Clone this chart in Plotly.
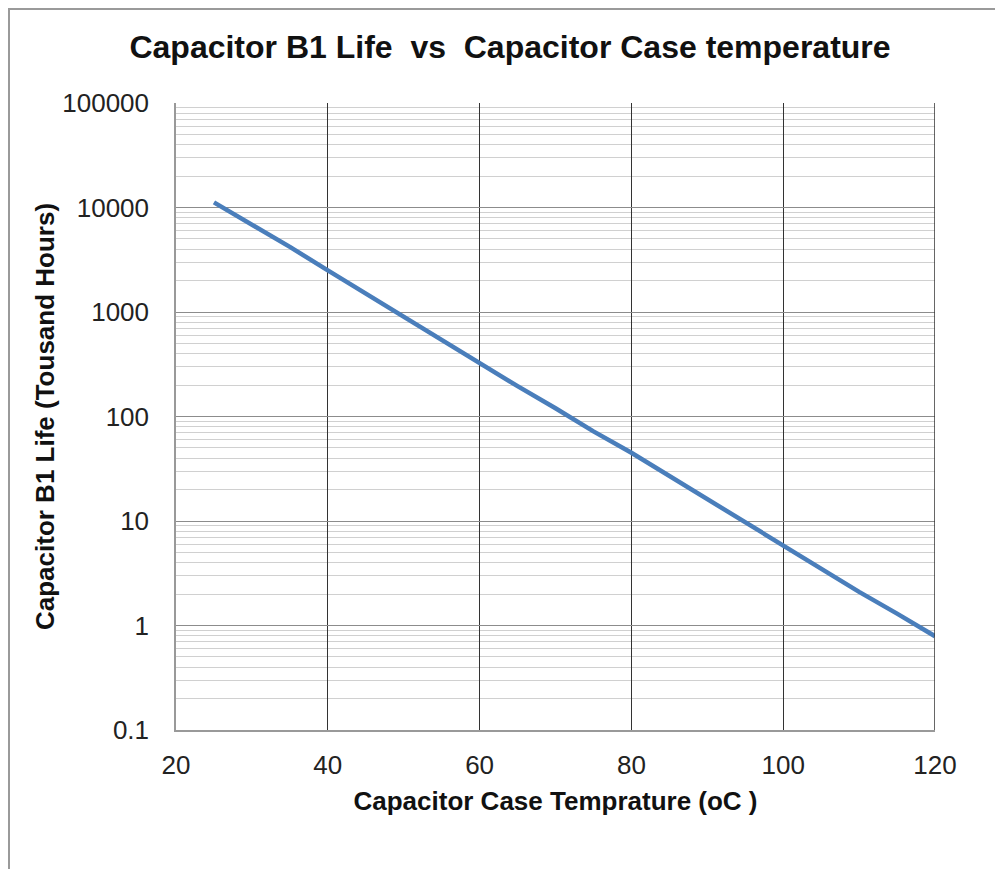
import plotly.graph_objects as go

# Data
temperature_c = [25, 30, 35, 40, 45, 50, 55, 60, 65, 70, 75, 80, 85, 90, 95, 100, 105, 110, 115, 120]
life_khours = [11200, 6900, 4200, 2500, 1500, 890, 540, 320, 195, 120, 72, 45, 27, 16, 9.8, 5.9, 3.5, 2.1, 1.3, 0.79]

x_ticks = [20, 40, 60, 80, 100, 120]
y_tickvals = [0.1, 1, 10, 100, 1000, 10000, 100000]
y_ticktext = ["0.1", "1", "10", "100", "1000", "10000", "100000"]

# page body has an 8px margin, so figure coords = screenshot coords - 8
W, H = 995, 861
L, R, T, B = 168, 927, 95, 722

fig = go.Figure()
fig.add_trace(go.Scatter(
    x=temperature_c, y=life_khours, mode="lines",
    line=dict(color="#4A7EBB", width=4.5),
    showlegend=False, hoverinfo="x+y",
))

font_family = "Liberation Sans, Arial, sans-serif"

fig.update_layout(
    width=W, height=H,
    margin=dict(l=L, r=W - R, t=T, b=H - B),
    paper_bgcolor="white", plot_bgcolor="white",
    font=dict(family=font_family, color="#222222"),
    title=dict(
        text="<b>Capacitor B1 Life  vs  Capacitor Case temperature</b>",
        x=502 / W, xanchor="center",
        y=1 - 39 / H, yanchor="middle", yref="container",
        font=dict(family=font_family, size=32, color="#111111"),
    ),
    xaxis=dict(
        range=[20, 120], tickvals=x_ticks,
        showgrid=True, gridcolor="#333333", gridwidth=1,
        showline=True, linecolor="#999999", linewidth=1.5, mirror=False,
        zeroline=False,
        ticks="outside", ticklen=11, tickcolor="rgba(0,0,0,0)",
        tickfont=dict(size=26, color="#222222"),
        title=dict(text="<b>Capacitor Case Temprature (oC )</b>", font=dict(size=26, color="#111111"), standoff=13),
    ),
    yaxis=dict(
        type="log", range=[-1, 5],
        tickvals=y_tickvals, ticktext=y_ticktext,
        showgrid=True, gridcolor="#8c8c8c", gridwidth=1,
        minor=dict(showgrid=True, gridcolor="#d0d0d0", gridwidth=1, dtick="D1", ticks=""),
        showline=True, linecolor="#999999", linewidth=1.5,
        zeroline=False,
        ticks="outside", ticklen=20, tickcolor="rgba(0,0,0,0)",
        tickfont=dict(size=26, color="#222222"),
        title=dict(text="<b>Capacitor B1 Life (Tousand Hours)</b>", font=dict(size=26, color="#111111"), standoff=0),
    ),
)

# Right plot edge (dark, like the vertical grid lines)
fig.add_shape(type="line", xref="x", yref="paper", x0=120, x1=120, y0=0, y1=1,
              line=dict(color="#333333", width=1.5))

# Outer gray border of the chart image (runs off the right and bottom edges)
px = lambda p: (p - L) / (R - L)
py = lambda p: (B - p) / (B - T)
fig.add_shape(type="rect", xref="paper", yref="paper",
              x0=px(1), x1=px(W + 20), y0=py(H + 20), y1=py(1),
              line=dict(color="#9a9a9a", width=2), layer="below")

fig.write_html("out.html")
